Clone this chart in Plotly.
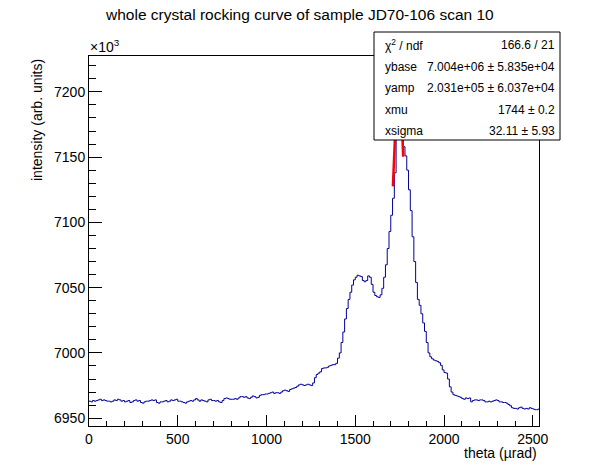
import numpy as np
import plotly.graph_objects as go

# histogram: 10 urad bins, low edges 0..2530, intensity in units of 1e3
bin_width = 10
counts = [
    6963.0, 6962.5, 6963.5, 6963.0, 6963.5, 6964.0, 6964.5, 6963.5, 6964.0, 6963.5,
    6963.0, 6963.0, 6962.5, 6963.0, 6964.0, 6963.5, 6964.5, 6964.0, 6963.0, 6963.5,
    6962.5, 6963.0, 6963.5, 6962.0, 6962.5, 6963.5, 6964.0, 6963.0, 6963.5, 6962.0,
    6961.5, 6962.5, 6963.0, 6963.0, 6963.5, 6964.0, 6963.5, 6964.0, 6962.0, 6961.5,
    6962.5, 6962.5, 6963.0, 6963.5, 6962.5, 6963.0, 6964.0, 6963.5, 6964.0, 6964.5,
    6963.0, 6963.0, 6962.5, 6962.0, 6961.5, 6962.5, 6963.0, 6963.5, 6963.0, 6964.0,
    6965.0, 6964.0, 6963.0, 6964.0, 6963.5, 6963.0, 6962.5, 6964.0, 6964.5, 6963.5,
    6963.5, 6963.0, 6963.5, 6962.5, 6962.0, 6963.5, 6965.0, 6965.5, 6965.0, 6964.5,
    6964.5, 6964.5, 6965.0, 6964.5, 6965.5, 6966.5, 6966.5, 6966.0, 6966.5, 6965.5,
    6965.0, 6966.0, 6967.0, 6966.5, 6965.5, 6966.0, 6967.5, 6968.0, 6968.0, 6968.5,
    6968.5, 6969.0, 6969.5, 6970.0, 6969.0, 6969.5, 6969.5, 6969.0, 6970.0, 6971.0,
    6971.5, 6971.0, 6970.5, 6972.0, 6972.5, 6973.0, 6973.5, 6974.5, 6975.5, 6976.0,
    6975.5, 6975.0, 6975.5, 6976.0, 6975.5, 6975.0, 6977.0, 6981.0, 6983.5, 6984.5,
    6985.5, 6988.0, 6988.5, 6988.5, 6989.0, 6990.0, 6990.5, 6991.0, 6991.0, 6992.0,
    6996.0, 7000.0, 7008.0, 7016.0, 7026.0, 7034.0, 7041.0, 7046.5, 7052.0, 7056.0,
    7058.0, 7059.5, 7059.0, 7058.5, 7055.5, 7054.5, 7055.5, 7059.0, 7058.0, 7052.5,
    7046.5, 7044.0, 7043.0, 7042.5, 7044.5, 7049.5, 7058.0, 7067.5, 7080.0, 7093.0,
    7105.5, 7118.5, 7138.0, 7170.0, 7200.0, 7212.0, 7195.0, 7158.0, 7151.0, 7140.0,
    7125.0, 7109.0, 7089.0, 7070.0, 7054.0, 7041.0, 7036.5, 7030.0, 7023.0, 7016.5,
    7008.0, 7000.0, 6997.0, 6995.5, 6994.5, 6994.0, 6993.5, 6992.5, 6990.5, 6987.0,
    6985.0, 6984.5, 6980.0, 6974.0, 6970.0, 6968.0, 6967.5, 6967.0, 6966.5, 6966.0,
    6965.0, 6964.5, 6965.5, 6965.0, 6965.5, 6962.5, 6963.5, 6964.0, 6964.0, 6963.5,
    6964.0, 6964.0, 6963.5, 6962.5, 6962.5, 6963.0, 6962.5, 6963.0, 6963.5, 6964.0,
    6963.5, 6962.5, 6962.5, 6962.0, 6962.0, 6961.5, 6960.5, 6959.5, 6958.0, 6957.5,
    6957.5, 6957.0, 6958.0, 6958.5, 6957.5, 6957.0, 6957.5, 6957.0, 6958.0, 6957.5,
    6957.0, 6956.5, 6956.5, 6957.0,
]

# gaussian fit parameters (from stats box) and fit range
ybase = 7.004e6
yamp = 2.031e5
xmu = 1744
xsigma = 32.11
fit_lo, fit_hi = 1712, 1770

stats_labels = ["χ<sup>2</sup> / ndf", "ybase", "yamp", "xmu", "xsigma"]
stats_values = ["166.6 / 21", "7.004e+06 ± 5.835e+04", "2.031e+05 ± 6.037e+04",
                "1744 ± 0.2", "32.11 ± 5.93"]

edges = np.arange(len(counts) + 1) * bin_width
hx = edges
hy = list(counts) + [counts[-1]]

fx = np.linspace(fit_lo, fit_hi, 200)
fy = (ybase + yamp * np.exp(-0.5 * ((fx - xmu) / xsigma) ** 2)) / 1e3

FONT = "Liberation Sans, Arial, sans-serif"

fig = go.Figure()
fig.add_trace(go.Scatter(x=hx, y=hy, mode="lines", line_shape="hv",
                         line=dict(color="#000099", width=1), hoverinfo="skip"))
fig.add_trace(go.Scatter(x=fx, y=fy, mode="lines",
                         line=dict(color="#ff0000", width=2.5), hoverinfo="skip"))

axis_common = dict(showgrid=False, zeroline=False, showline=True, mirror=True,
                   linecolor="black", linewidth=1, ticks="inside", automargin=False,
                   tickcolor="black", tickfont=dict(family=FONT, size=14, color="black"))

fig.update_xaxes(range=[0, 2535], tick0=0, dtick=500, ticklen=11,
                 minor=dict(ticks="inside", dtick=100, ticklen=5, tickcolor="black"),
                 **axis_common)
fig.update_yaxes(range=[6944, 7227.5], tick0=6950, dtick=50, ticklen=13,
                 minor=dict(ticks="inside", dtick=10, ticklen=7, tickcolor="black"),
                 **axis_common)

W, H = 598, 474
ml, mr, mt, mb = 89, 59, 56, 48
pw, ph = W - ml - mr, H - mt - mb


def px(x):
    return (x - ml) / pw


def py(y):
    return (H - mb - y) / ph


annotations = [
    dict(text="whole crystal rocking curve of sample JD70-106 scan 10",
         x=px(299), y=py(14), xanchor="center", yanchor="middle",
         font=dict(family=FONT, size=15.5, color="black")),
    dict(text="×10<sup>3</sup>", x=px(88), y=py(57), xanchor="left", yanchor="bottom"),
    dict(text="intensity (arb. units)", x=px(37), y=py(57), xanchor="center",
         yanchor="top", textangle=-90),
    dict(text="theta (µrad)", x=px(539), y=py(453), xanchor="right", yanchor="middle"),
]
row_y = [45, 67, 88, 110, 131]
for lab, val, ry in zip(stats_labels, stats_values, row_y):
    annotations.append(dict(text=lab, x=px(383), y=py(ry), xanchor="left",
                            yanchor="middle", font=dict(family=FONT, size=12, color="black")))
    annotations.append(dict(text=val, x=px(557), y=py(ry), xanchor="right",
                            yanchor="middle", font=dict(family=FONT, size=12, color="black")))

for a in annotations:
    a.update(xref="paper", yref="paper", showarrow=False)
    a.setdefault("font", dict(family=FONT, size=14, color="black"))

fig.update_layout(
    width=W, height=H,
    margin=dict(l=ml, r=mr, t=mt, b=mb),
    paper_bgcolor="white", plot_bgcolor="white",
    showlegend=False,
    annotations=annotations,
    shapes=[dict(type="rect", xref="paper", yref="paper",
                 x0=px(374), x1=px(560), y0=py(140), y1=py(32),
                 fillcolor="white", line=dict(color="black", width=1), layer="above")],
)

# drop the default page margin so the canvas starts at the window corner
fig.write_html("out.html", config={"displayModeBar": False},
               post_script="document.body.style.margin='0';")
